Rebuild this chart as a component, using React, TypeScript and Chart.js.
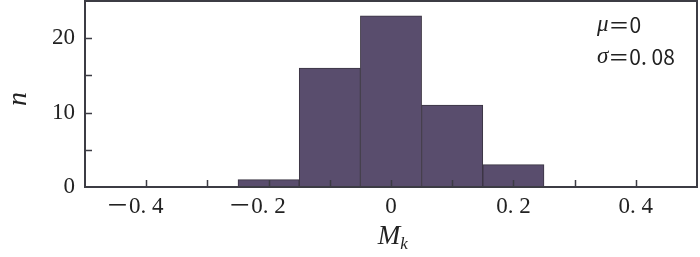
import React, { useEffect, useRef } from "react";
import { Chart, registerables } from "chart.js";

Chart.register(...registerables);

const binCenters = [-0.4, -0.3, -0.2, -0.1, 0, 0.1, 0.2, 0.3, 0.4];
const counts = [0, 0, 1, 16, 23, 11, 3, 0, 0];
const xTickValues = [-0.4, -0.3, -0.2, -0.1, 0, 0.1, 0.2, 0.3, 0.4];
const xLabelValues = [-0.4, -0.2, 0, 0.2, 0.4];
const xLabelTexts = ["－0. 4", "－0. 2", "0", "0. 2", "0. 4"];
const yTickValues = [5, 10, 15, 20];
const yLabelValues = [0, 10, 20];
const yLabelTexts = ["0", "10", "20"];
const annotations = [
  { sym: "μ", rest: "＝0" },
  { sym: "σ", rest: "＝0. 08" },
];

const FONT = "'Liberation Serif', 'Noto Sans CJK SC', serif";
const SANS = "'Noto Sans CJK SC', 'Noto Sans', sans-serif";
const AXIS = "#3c3c44";

export default function App() {
  const ref = useRef<HTMLCanvasElement | null>(null);

  useEffect(() => {
    document.body.style.margin = "0";
    const canvas = ref.current;
    if (!canvas) return;

    const decor = {
      id: "decor",
      afterDatasetsDraw(chart: any) {
        const { ctx, chartArea: a, scales } = chart;
        const x = scales.x;
        const y = scales.y;
        ctx.save();
        ctx.strokeStyle = AXIS;
        ctx.lineWidth = 1.5;
        // inward ticks
        ctx.beginPath();
        xTickValues.forEach((v) => {
          const px = Math.round(x.getPixelForValue(v)) + 0.5;
          ctx.moveTo(px, a.bottom);
          ctx.lineTo(px, a.bottom - 7);
        });
        yTickValues.forEach((v) => {
          const py = Math.round(y.getPixelForValue(v)) + 0.5;
          ctx.moveTo(a.left, py);
          ctx.lineTo(a.left + 7, py);
        });
        ctx.stroke();
        // frame
        ctx.lineWidth = 2;
        ctx.strokeRect(a.left, a.top, a.right - a.left, a.bottom - a.top);

        // tick labels (numeric part centred on tick, sign hangs left)
        ctx.fillStyle = "#222";
        ctx.font = `23px ${FONT}`;
        ctx.textBaseline = "middle";
        ctx.textAlign = "left";
        xLabelValues.forEach((v, i) => {
          const txt = xLabelTexts[i];
          const full = ctx.measureText(txt).width;
          const num = ctx.measureText(txt.replace("－", "")).width;
          const px = x.getPixelForValue(v);
          ctx.fillText(txt, px + num / 2 - full, a.bottom + 20);
        });
        ctx.textAlign = "right";
        yLabelValues.forEach((v, i) => {
          ctx.fillText(yLabelTexts[i], a.left - 10, y.getPixelForValue(v));
        });

        // axis titles
        ctx.font = `italic 27px ${FONT}`;
        ctx.textAlign = "center";
        ctx.fillText("M", x.getPixelForValue(0) - 2, a.bottom + 50);
        ctx.font = `italic 17px ${FONT}`;
        ctx.fillText("k", x.getPixelForValue(0) + 13, a.bottom + 58);
        ctx.save();
        ctx.translate(19, (a.top + a.bottom) / 2 + 5);
        ctx.rotate(-Math.PI / 2);
        ctx.font = `italic 28px ${FONT}`;
        ctx.fillText("n", 0, 0);
        ctx.restore();

        // annotation
        ctx.textAlign = "left";
        annotations.forEach((t, i) => {
          const ty = a.top + 24 + i * 32;
          ctx.font = `italic 23px ${FONT}`;
          ctx.fillText(t.sym, 597, ty);
          const w = ctx.measureText(t.sym).width;
          ctx.font = `21px ${SANS}`;
          ctx.fillText(t.rest, 597 + w, ty);
        });
        ctx.restore();
      },
    };

    const chart = new Chart(canvas, {
      type: "bar",
      data: {
        datasets: [
          {
            data: binCenters.map((c, i) => ({ x: c, y: counts[i] })),
            backgroundColor: "#594d6d",
            borderColor: "#3a3442",
            borderWidth: 1,
            borderSkipped: false,
            barPercentage: 1,
            categoryPercentage: 1,
          },
        ],
      },
      options: {
        animation: false,
        responsive: false,
        maintainAspectRatio: false,
        events: [],
        layout: { padding: { left: 0, right: 3, top: 1, bottom: 0 } },
        plugins: {
          legend: { display: false },
          tooltip: { enabled: false },
          title: { display: false },
        },
        scales: {
          x: {
            type: "linear",
            min: -0.5,
            max: 0.5,
            offset: false,
            grid: { display: false, drawTicks: false },
            border: { display: false },
            ticks: { display: false, stepSize: 0.1 },
            afterFit: (s: any) => {
              s.height = 70;
            },
          },
          y: {
            type: "linear",
            min: 0,
            max: 25,
            grid: { display: false, drawTicks: false },
            border: { display: false },
            ticks: { display: false, stepSize: 5 },
            afterFit: (s: any) => {
              s.width = 85;
            },
          },
        },
      },
      plugins: [decor],
    });

    return () => chart.destroy();
  }, []);

  return (
    <div style={{ width: 700, height: 257, background: "#fff" }}>
      <canvas ref={ref} width={700} height={257} style={{ display: "block" }} />
    </div>
  );
}
